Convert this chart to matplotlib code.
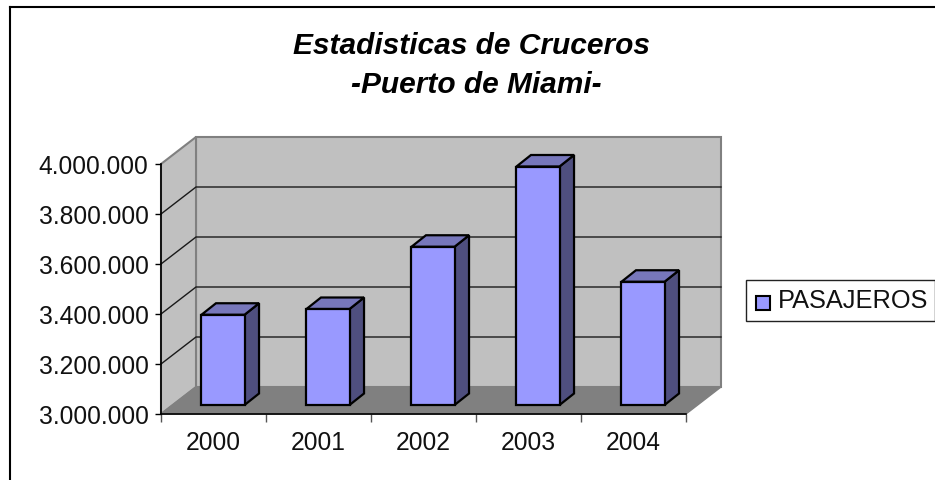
import matplotlib
matplotlib.use("Agg")
import matplotlib.pyplot as plt
from matplotlib.patches import Polygon, Rectangle
from matplotlib.lines import Line2D

years = ['2000', '2001', '2002', '2003', '2004']
pasajeros = [3361000, 3384000, 3633000, 3954000, 3493000]
y_ticks = [3000000, 3200000, 3400000, 3600000, 3800000, 4000000]
y_labels = ['3.000.000', '3.200.000', '3.400.000', '3.600.000', '3.800.000', '4.000.000']

W, H = 935, 480
plt.rcParams['font.family'] = 'Liberation Sans'

fig = plt.figure(figsize=(W / 100, H / 100), dpi=100)
# axes = front plane of the 3d box
ax = fig.add_axes([161 / W, 1 - 414 / H, 525 / W, 250 / H])
ax.set_xlim(0, 5)
ax.set_ylim(3000000, 4000000)

# pixels to data units
px = 5 / 525
py = 1000000 / 250
dx, dy = 35 * px, 27 * py
ymin, ymax = 3000000, 4000000
GREY = '#c0c0c0'
DARK = '#808080'

# walls and floor
ax.add_patch(Polygon([(dx, ymin + dy), (5 + dx, ymin + dy), (5 + dx, ymax + dy), (dx, ymax + dy)],
                     fc=GREY, ec=DARK, lw=1.5, zorder=1, clip_on=False))
ax.add_patch(Polygon([(0, ymin), (dx, ymin + dy), (dx, ymax + dy), (0, ymax)],
                     fc=GREY, ec=DARK, lw=1.5, zorder=1, clip_on=False))
ax.add_patch(Polygon([(0, ymin), (5, ymin), (5 + dx, ymin + dy), (dx, ymin + dy)],
                     fc=DARK, ec=DARK, lw=1, zorder=1, clip_on=False))

for t in y_ticks[1:-1]:
    ax.plot([0, dx, 5 + dx], [t, t + dy, t + dy], color='#1a1a1a', lw=1, zorder=2, clip_on=False)

# bars
front_x, front_y = 9.5 * px, 9 * py
bar_w = 0.41
side_x, side_y = 14.5 * px, 11.5 * py
for i, v in enumerate(pasajeros):
    x0 = i + 0.5 - bar_w / 2 + front_x
    x1 = x0 + bar_w
    y0 = ymin + front_y
    y1 = v + front_y
    ax.add_patch(Polygon([(x1, y0), (x1 + side_x, y0 + side_y), (x1 + side_x, y1 + side_y), (x1, y1)],
                         fc='#4f4f7f', ec='black', lw=1.6, zorder=3, clip_on=False))
    ax.add_patch(Polygon([(x0, y1), (x1, y1), (x1 + side_x, y1 + side_y), (x0 + side_x, y1 + side_y)],
                         fc='#7777bb', ec='black', lw=1.6, zorder=3, clip_on=False))
    ax.add_patch(Rectangle((x0, y0), bar_w, y1 - y0, fc='#9999ff', ec='black', lw=1.6, zorder=4, clip_on=False))

# axes
for s in ['top', 'right']:
    ax.spines[s].set_visible(False)
ax.patch.set_visible(False)
ax.spines['left'].set_linewidth(1.2)
ax.spines['bottom'].set_linewidth(1.2)
ax.spines['left'].set_zorder(5)
ax.spines['bottom'].set_zorder(5)
ax.set_yticks(y_ticks)
ax.set_yticklabels(y_labels, fontsize=17.7, color='#111111')
ax.tick_params(axis='y', length=4, width=1, pad=5)
ax.set_xticks(range(6))
ax.set_xticklabels([])
ax.tick_params(axis='x', which='major', length=6, width=1, color='#555555')
ax.set_xticks([i + 0.5 for i in range(5)], minor=True)
ax.set_xticklabels(years, minor=True, fontsize=17.7, color='#111111')
ax.tick_params(axis='x', which='minor', length=0, pad=12)

# chart frame, title, legend
fig.add_artist(Line2D([10 / W, 10 / W], [0, 1 - 7 / H], color='black', lw=1.5))
fig.add_artist(Line2D([10 / W, 1], [1 - 7 / H, 1 - 7 / H], color='black', lw=1.5))
fig.text(472 / W, 1 - 54 / H, 'Estadisticas de Cruceros', ha='center', va='baseline',
         fontsize=21.5, fontweight='bold', fontstyle='italic')
fig.text(476.5 / W, 1 - 93 / H, '-Puerto de Miami-', ha='center', va='baseline',
         fontsize=21.5, fontweight='bold', fontstyle='italic')
fig.add_artist(Rectangle((746 / W, 1 - 321 / H), 189 / W, 41 / H, fc='white', ec='#222222', lw=1,
                         transform=fig.transFigure))
fig.add_artist(Rectangle((755.5 / W, 1 - 309.5 / H), 14.5 / W, 14 / H, fc='#9999ff', ec='black', lw=1.5,
                         transform=fig.transFigure))
fig.text(778 / W, 1 - 300.5 / H, 'PASAJEROS', fontsize=18.3, va='center', ha='left', color='#111111')

fig.savefig('out.png', dpi=100)
